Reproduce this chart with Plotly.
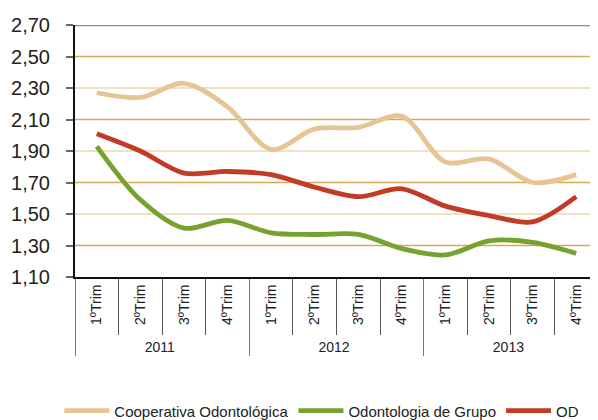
import plotly.graph_objects as go

years = ["2011", "2012", "2013"]
quarters = ["1ºTrim", "2ºTrim", "3ºTrim", "4ºTrim"]

cooperativa = [2.27, 2.24, 2.33, 2.18, 1.91, 2.04, 2.05, 2.12, 1.83, 1.85, 1.70, 1.75]
grupo = [1.93, 1.59, 1.41, 1.46, 1.38, 1.37, 1.37, 1.28, 1.24, 1.33, 1.32, 1.25]
od = [2.01, 1.90, 1.76, 1.77, 1.75, 1.67, 1.61, 1.66, 1.55, 1.49, 1.45, 1.61]

y_ticks = [1.10, 1.30, 1.50, 1.70, 1.90, 2.10, 2.30, 2.50, 2.70]
grid_strong = [1.30, 1.70, 2.10, 2.50]
grid_light = [1.50, 1.90, 2.30]

x_outer = [y for y in years for _ in quarters]
x_inner = [q for _ in years for q in quarters]
x = [x_outer, x_inner]

FONT = "Liberation Sans, Arial, sans-serif"

fig = go.Figure()
series = [
    ("Cooperativa Odontológica", cooperativa, "#E8C494"),
    ("Odontologia de Grupo", grupo, "#78A22F"),
    ("OD", od, "#C23B24"),
]
for name, vals, col in series:
    fig.add_trace(go.Scatter(
        x=x, y=vals, name=name, mode="lines",
        line=dict(color=col, width=4.8, shape="spline", smoothing=0.9),
    ))

shapes = []
for v in grid_strong:
    shapes.append(dict(type="line", xref="paper", yref="y", x0=0, x1=1, y0=v, y1=v,
                       line=dict(color="#D9A857", width=1.3), layer="below"))
for v in grid_light:
    shapes.append(dict(type="line", xref="paper", yref="y", x0=0, x1=1, y0=v, y1=v,
                       line=dict(color="#EED6AE", width=1.5), layer="below"))
shapes.append(dict(type="line", xref="paper", yref="y", x0=0, x1=1, y0=2.70, y1=2.70,
                   line=dict(color="#8C8C8C", width=2.5), layer="below"))

fig.update_layout(
    width=590, height=412,
    margin=dict(l=67, r=0, t=17, b=143, autoexpand=False),
    plot_bgcolor="white", paper_bgcolor="white",
    separators=",.",
    shapes=shapes,
    showlegend=True,
    legend=dict(orientation="h", x=-0.03, xanchor="left", y=-0.466, yanchor="top",
                font=dict(family=FONT, size=15, color="#222"),
                itemwidth=45, tracegroupgap=0),
    yaxis=dict(range=[1.10, 2.70], tickvals=y_ticks, tickformat=".2f",
               showgrid=False, zeroline=False,
               showline=True, linecolor="#111", linewidth=2,
               ticks="outside", ticklen=7, tickcolor="#666", tickwidth=1.5,
               ticklabelstandoff=12,
               tickfont=dict(family=FONT, size=20, color="#222")),
    xaxis=dict(type="multicategory", range=[-0.5, 11.5], showgrid=False, zeroline=False,
               showline=True, linecolor="#111", linewidth=2,
               ticks="outside", tickson="boundaries", ticklen=56, tickcolor="#555", tickwidth=1,
               tickangle=-90,
               showdividers=True, dividercolor="#777", dividerwidth=1,
               tickfont=dict(family=FONT, size=14, color="#222")),
)

fig.write_html("out.html")
